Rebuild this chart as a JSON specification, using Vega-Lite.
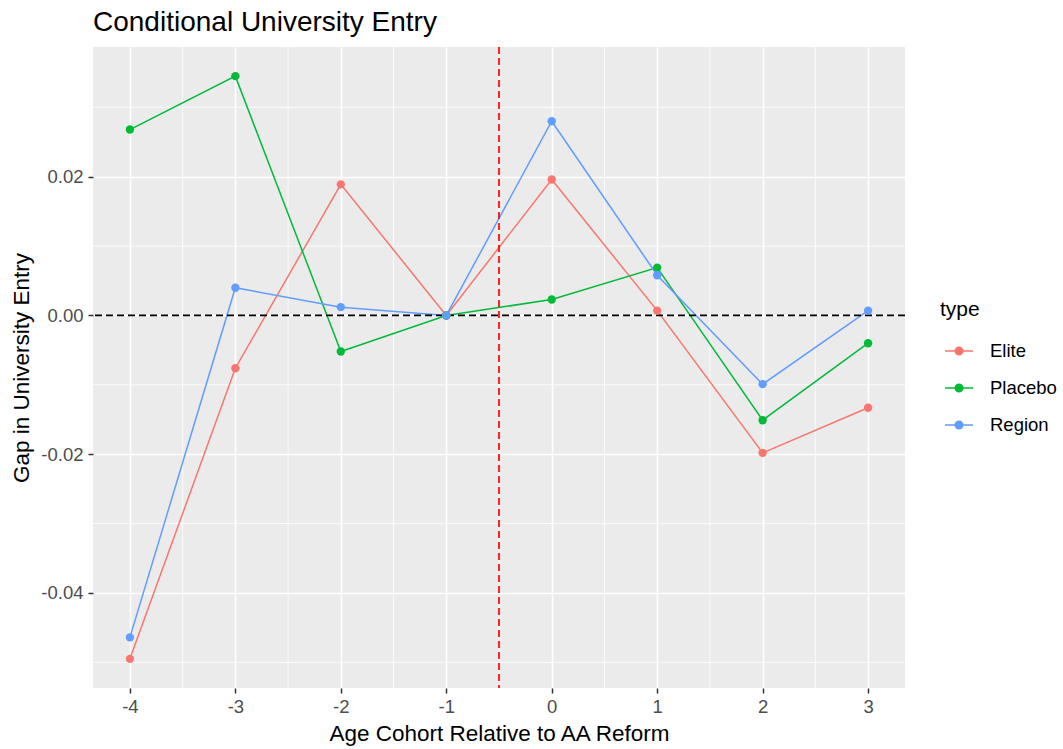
{
  "$schema": "https://vega.github.io/schema/vega-lite/v6.json",
  "autosize": "none",
  "width": 812,
  "height": 641,
  "padding": {"left": 93, "top": 47, "right": 158, "bottom": 61},
  "background": "white",
  "title": {"text": "Conditional University Entry", "anchor": "start", "frame": "group", "fontSize": 28, "font": "Liberation Sans", "fontWeight": "normal", "color": "black", "offset": 9},
  "config": {
    "view": {"fill": "#EBEBEB", "stroke": null},
    "font": "Liberation Sans",
    "axis": {"labelFont": "Liberation Sans", "titleFont": "Liberation Sans", "labelFontSize": 18.5, "titleFontSize": 22.5, "labelColor": "#4D4D4D", "titleColor": "black", "titleFontWeight": "normal", "tickColor": "#333333", "tickSize": 5, "tickWidth": 1.5, "domain": false, "gridColor": "white", "gridWidth": 1.6},
    "legend": {"labelFont": "Liberation Sans", "titleFont": "Liberation Sans"}
  },
  "datasets": {
    "series": [
      {"cohort": -4, "gap": -0.0495, "type": "Elite"},
      {"cohort": -3, "gap": -0.0076, "type": "Elite"},
      {"cohort": -2, "gap": 0.0189, "type": "Elite"},
      {"cohort": -1, "gap": 0.0, "type": "Elite"},
      {"cohort": 0, "gap": 0.0196, "type": "Elite"},
      {"cohort": 1, "gap": 0.0007, "type": "Elite"},
      {"cohort": 2, "gap": -0.0198, "type": "Elite"},
      {"cohort": 3, "gap": -0.0133, "type": "Elite"},
      {"cohort": -4, "gap": 0.0268, "type": "Placebo"},
      {"cohort": -3, "gap": 0.0345, "type": "Placebo"},
      {"cohort": -2, "gap": -0.0052, "type": "Placebo"},
      {"cohort": -1, "gap": 0.0, "type": "Placebo"},
      {"cohort": 0, "gap": 0.0023, "type": "Placebo"},
      {"cohort": 1, "gap": 0.0069, "type": "Placebo"},
      {"cohort": 2, "gap": -0.0151, "type": "Placebo"},
      {"cohort": 3, "gap": -0.0040, "type": "Placebo"},
      {"cohort": -4, "gap": -0.0464, "type": "Region"},
      {"cohort": -3, "gap": 0.0040, "type": "Region"},
      {"cohort": -2, "gap": 0.0012, "type": "Region"},
      {"cohort": -1, "gap": 0.0, "type": "Region"},
      {"cohort": 0, "gap": 0.0280, "type": "Region"},
      {"cohort": 1, "gap": 0.0058, "type": "Region"},
      {"cohort": 2, "gap": -0.0099, "type": "Region"},
      {"cohort": 3, "gap": 0.0007, "type": "Region"}
    ],
    "minorX": [{"v": -3.5}, {"v": -2.5}, {"v": -1.5}, {"v": -0.5}, {"v": 0.5}, {"v": 1.5}, {"v": 2.5}],
    "minorY": [{"v": -0.05}, {"v": -0.03}, {"v": -0.01}, {"v": 0.01}, {"v": 0.03}],
    "zeroLine": [{"y": 0}],
    "reformLine": [{"x": -0.5}]
  },
  "layer": [
    {
      "data": {"name": "minorX"},
      "mark": {"type": "rule", "color": "white", "strokeWidth": 0.8},
      "encoding": {"x": {"field": "v", "type": "quantitative"}}
    },
    {
      "data": {"name": "minorY"},
      "mark": {"type": "rule", "color": "white", "strokeWidth": 0.8},
      "encoding": {"y": {"field": "v", "type": "quantitative"}}
    },
    {
      "data": {"name": "series"},
      "mark": {"type": "line", "strokeWidth": 1.5},
      "encoding": {
        "x": {"field": "cohort", "type": "quantitative", "scale": {"domain": [-4.35, 3.35], "nice": false, "zero": false},
              "axis": {"values": [-4, -3, -2, -1, 0, 1, 2, 3], "format": "d", "labelExpr": "replace(datum.label, '\u2212', '-')", "title": "Age Cohort Relative to AA Reform", "labelPadding": 4, "titlePadding": 7, "grid": true}},
        "y": {"field": "gap", "type": "quantitative", "scale": {"domain": [-0.0537, 0.0387], "nice": false, "zero": false},
              "axis": {"values": [-0.04, -0.02, 0, 0.02], "format": ".2f", "labelExpr": "replace(datum.label, '\u2212', '-')", "title": "Gap in University Entry", "labelPadding": 5, "titlePadding": 7, "grid": true}},
        "color": {"field": "type", "type": "nominal",
                  "scale": {"domain": ["Elite", "Placebo", "Region"], "range": ["#F8766D", "#00BA38", "#619CFF"]},
                  "legend": {"title": "type", "orient": "none", "legendX": 847, "legendY": 252, "titleFontSize": 21, "titleFontWeight": "normal", "titleColor": "black", "labelFontSize": 18.5, "labelColor": "black", "titlePadding": 16, "rowPadding": 12, "symbolType": "M-1,0L1,0M-0.27,0A0.27,0.27,0,1,0,0.27,0A0.27,0.27,0,1,0,-0.27,0Z", "symbolSize": 784, "symbolStrokeWidth": 1.5, "symbolOffset": 4, "labelOffset": 16, "padding": 0}},
        "detail": {"field": "type"}
      }
    },
    {
      "data": {"name": "zeroLine"},
      "mark": {"type": "rule", "color": "black", "strokeWidth": 1.7, "strokeDash": [7, 4]},
      "encoding": {"y": {"field": "y", "type": "quantitative"}}
    },
    {
      "data": {"name": "reformLine"},
      "mark": {"type": "rule", "color": "#FF0000", "strokeWidth": 1.7, "strokeDash": [7, 4]},
      "encoding": {"x": {"field": "x", "type": "quantitative"}}
    },
    {
      "data": {"name": "series"},
      "mark": {"type": "point", "filled": true, "opacity": 1, "size": 70},
      "encoding": {
        "x": {"field": "cohort", "type": "quantitative"},
        "y": {"field": "gap", "type": "quantitative"},
        "color": {"field": "type", "type": "nominal"}
      }
    }
  ]
}
